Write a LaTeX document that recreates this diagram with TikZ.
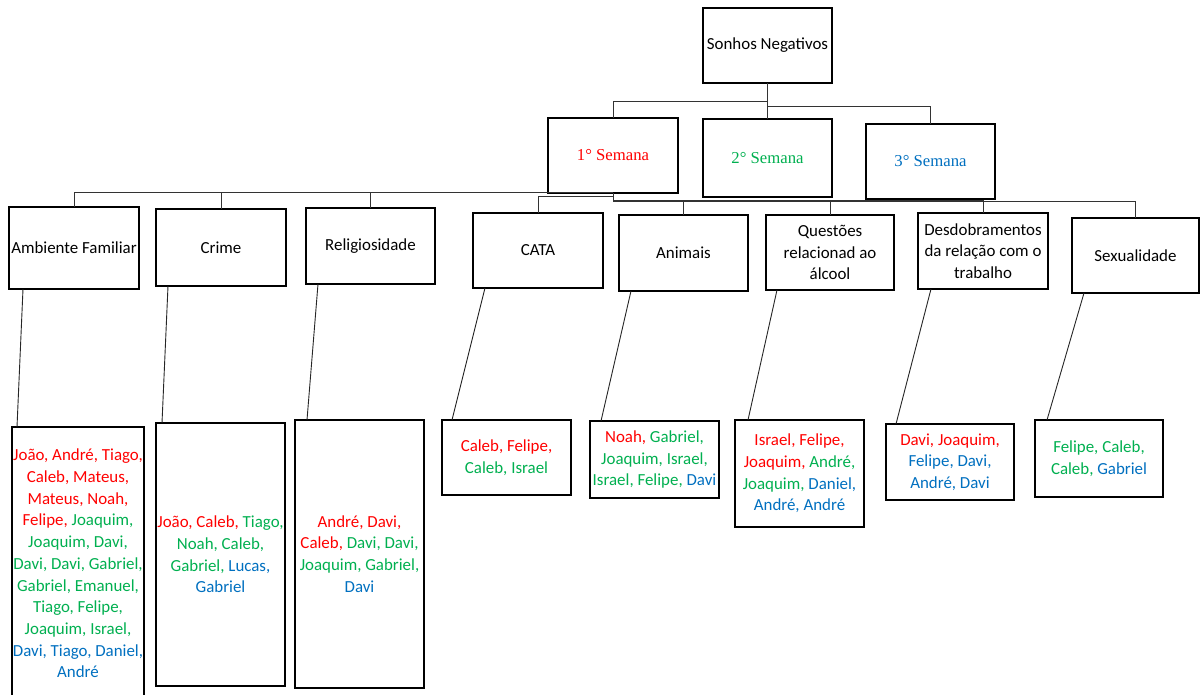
\documentclass[tikz,border=0pt]{standalone}
\usepackage{fontspec}
\setmainfont{Carlito}
\newfontfamily\serifw{Liberation Serif}
\definecolor{cred}{HTML}{FF0000}
\definecolor{cgreen}{HTML}{00B050}
\definecolor{cblue}{HTML}{0070C0}
\newcommand{\redt}[1]{\textcolor{cred}{#1}}
\newcommand{\grnt}[1]{\textcolor{cgreen}{#1}}
\newcommand{\blut}[1]{\textcolor{cblue}{#1}}
\begin{document}
\begin{tikzpicture}[x=1pt,y=-1pt,
  box/.style={draw=black,line width=1.1pt,inner sep=0pt,outer sep=0pt,align=center,
    font=\fontsize{16.9}{21.7}\selectfont},
  wk/.style={box,font=\serifw\fontsize{16.7}{20}\selectfont},
  conn/.style={draw=black!80,line width=1pt},
  slant/.style={draw=black!85,line width=0.9pt}]
\useasboundingbox (0,0) rectangle (1200,695);
\clip (0,0) rectangle (1200,695);
\fill[white] (0,0) rectangle (1200,695);

% level 0 and 1
\node[box,minimum width=129pt,minimum height=75pt] (root) at (767.5,45.5) {Sonhos Negativos};
\node[wk,minimum width=130pt,minimum height=75pt] (w1) at (613,155.5) {\textcolor{cred}{1° Semana}};
\node[wk,minimum width=129pt,minimum height=78pt] (w2) at (767.5,158) {\textcolor{cgreen}{2° Semana}};
\node[wk,minimum width=129pt,minimum height=75pt] (w3) at (930.5,161.5) {\textcolor{cblue}{3° Semana}};

% level 2
\node[box,minimum width=130pt,minimum height=82pt] (amb) at (74,248) {Ambiente Familiar};
\node[box,minimum width=130pt,minimum height=77pt] (crime) at (221,247.5) {Crime};
\node[box,minimum width=129pt,minimum height=76pt] (relig) at (370.5,246) {Religiosidade};
\node[box,minimum width=130pt,minimum height=75pt] (cata) at (538,250.5) {CATA};
\node[box,minimum width=129pt,minimum height=76pt] (anim) at (683.5,253) {Animais};
\node[box,minimum width=128pt,minimum height=75pt] (alc) at (830,252.5) {Questões\\relacionad ao\\álcool};
\node[box,minimum width=130pt,minimum height=76pt] (desd) at (983,251) {Desdobramentos\\da relação com o\\trabalho};
\node[box,minimum width=127pt,minimum height=75pt] (sex) at (1135.5,255.5) {Sexualidade};

% level 3 (leaves)
\node[box,minimum width=132pt,minimum height=273pt] (lamb) at (78,563.5)
  {\redt{João, André, Tiago,}\\ \redt{Caleb, Mateus,}\\ \redt{Mateus, Noah,}\\
   \redt{Felipe,} \grnt{Joaquim,}\\ \grnt{Joaquim, Davi,}\\ \grnt{Davi, Davi, Gabriel,}\\
   \grnt{Gabriel, Emanuel,}\\ \grnt{Tiago, Felipe,}\\ \grnt{Joaquim, Israel,}\\
   \blut{Davi, Tiago, Daniel,}\\ \blut{André}};
\node[box,minimum width=129pt,minimum height=263pt] (lcrime) at (220.5,554.5)
  {\redt{João, Caleb,} \grnt{Tiago,}\\ \grnt{Noah, Caleb,}\\ \grnt{Gabriel,} \blut{Lucas,}\\ \blut{Gabriel}};
\node[box,minimum width=129pt,minimum height=268pt] (lrel) at (359.5,554)
  {\redt{André, Davi,}\\ \redt{Caleb,} \grnt{Davi, Davi,}\\ \grnt{Joaquim, Gabriel,}\\ \blut{Davi}};
\node[box,minimum width=129pt,minimum height=75pt] (lcata) at (506.5,457.5)
  {\redt{Caleb, Felipe,}\\ \grnt{Caleb, Israel}};
\node[box,minimum width=129pt,minimum height=77pt] (lanim) at (654.5,459.5)
  {\redt{Noah,} \grnt{Gabriel,}\\ \grnt{Joaquim, Israel,}\\ \grnt{Israel, Felipe,} \blut{Davi}};
\node[box,minimum width=129pt,minimum height=107pt] (lalc) at (799.5,473.5)
  {\redt{Israel, Felipe,}\\ \redt{Joaquim,} \grnt{André,}\\ \grnt{Joaquim,} \blut{Daniel,}\\ \blut{André, André}};
\node[box,minimum width=128pt,minimum height=76pt] (ldesd) at (950,462)
  {\redt{Davi, Joaquim,}\\ \blut{Felipe, Davi,}\\ \blut{André, Davi}};
\node[box,minimum width=128pt,minimum height=77pt] (lsex) at (1099,458.5)
  {\grnt{Felipe, Caleb,}\\ \grnt{Caleb,} \blut{Gabriel}};

% connectors root -> weeks
\draw[conn] (root.south) -- ++(0,19) -| (w1.north);
\draw[conn] (root.south) -- ++(0,24) -| (w3.north);
\draw[conn] (root.south) -- (w2.north);

% connectors week 1 -> categories
\draw[conn] (w1.south) -| (amb.north);
\draw[conn] (w1.south) -| (crime.north);
\draw[conn] (w1.south) -| (relig.north);
\draw[conn] (w1.south) -- ++(0,4) -| (cata.north);
\draw[conn] (w1.south) -- ++(0,8) -| (anim.north);
\draw[conn] (w1.south) -- ++(0,8) -| (alc.north);
\draw[conn] (w1.south) -- ++(0,8) -| (desd.north);
\draw[conn] (w1.south) -- ++(0,9) -| (sex.north);

% category -> leaf
\draw[slant] ([xshift=14pt]amb.south west) -- ([xshift=5pt]lamb.north west);
\draw[slant] ([xshift=12pt]crime.south west) -- ([xshift=6pt]lcrime.north west);
\draw[slant] ([xshift=12pt]relig.south west) -- ([xshift=12pt]lrel.north west);
\draw[slant] ([xshift=12pt]cata.south west) -- ([xshift=10pt]lcata.north west);
\draw[slant] ([xshift=12pt]anim.south west) -- ([xshift=11pt]lanim.north west);
\draw[slant] ([xshift=11pt]alc.south west) -- ([xshift=13pt]lalc.north west);
\draw[slant] ([xshift=13pt]desd.south west) -- ([xshift=10pt]ldesd.north west);
\draw[slant] ([xshift=12pt]sex.south west) -- ([xshift=12pt]lsex.north west);
\end{tikzpicture}
\end{document}
